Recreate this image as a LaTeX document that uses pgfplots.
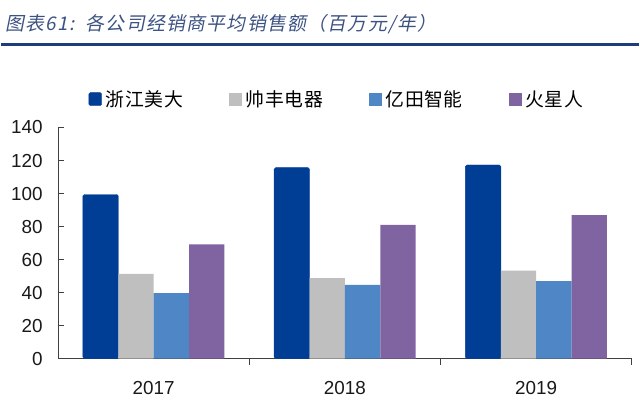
\documentclass[border=0pt]{standalone}
\usepackage{fontspec}
\setmainfont{Liberation Sans}
\newfontfamily\cjk[LetterSpace=3]{Noto Sans CJK SC}
\newfontfamily\cjktitle[FakeSlant=0.2,LetterSpace=7]{Noto Sans CJK SC}
\usepackage{pgfplots}
\pgfplotsset{compat=1.18}

\definecolor{cMeida}{RGB}{0,62,150}
\definecolor{cShuai}{RGB}{191,191,191}
\definecolor{cYitian}{RGB}{79,134,198}
\definecolor{cHuo}{RGB}{128,100,162}
\definecolor{titleblue}{RGB}{60,82,130}
\definecolor{rulecol}{RGB}{30,60,120}

\begin{document}
\begin{tikzpicture}[x=1bp,y=1bp]
\path (0,0) rectangle (640,417);
\node[anchor=west, inner sep=0pt, text=titleblue, font=\cjktitle\fontsize{19}{21}\selectfont] at (4,393) {图表61:\ \ 各公司经销商平均销售额（百万元/年）};
\draw[rulecol, line width=2.5bp] (0,372.5) -- (640,372.5);

\begin{axis}[
    at={(57bp,57bp)}, anchor=south west,
    scale only axis,
    width=576bp, height=232bp,
    xmin=-0.5, xmax=2.5,
    ymin=0, ymax=140,
    ytick={0,20,...,140},
    xtick={0,1,2},
    xticklabels={2017,2018,2019},
    minor xtick={0.5,1.5,2.5},
    major x tick style={draw=none},
    tick align=inside,
    major tick length=6bp,
    minor tick length=6bp,
    axis x line*=bottom,
    axis y line*=left,
    axis line style={black!75, line width=0.8bp},
    every tick/.style={black!75, line width=0.8bp},
    /pgf/number format/assume math mode=true,
    tick label style={font=\fontsize{19}{21}\selectfont, text=black!90},
    yticklabel style={xshift=-12bp},
    xticklabel style={yshift=-13bp},
    ybar=0pt,
    bar width=35.5bp,
    legend columns=4,
    legend style={at={(0.486,1.123)}, anchor=center, draw=none, fill=none,
        font=\cjk\fontsize{19}{21}\selectfont,
        /tikz/every odd column/.append style={column sep=2bp},
        /tikz/every even column/.append style={column sep=44bp}},
    legend image code/.code={\fill[#1] (0bp,-6.5bp) rectangle (13bp,6.5bp);},
]
\addplot[fill=cMeida, draw=cMeida, rounded corners=1.5bp] coordinates {(0,99.4) (1,115.7) (2,117.3)};
\addlegendentry{浙江美大}
\addplot[fill=cShuai, draw=none] coordinates {(0,51.3) (1,48.7) (2,53.3)};
\addlegendentry{帅丰电器}
\addplot[fill=cYitian, draw=none] coordinates {(0,39.6) (1,44.7) (2,46.9)};
\addlegendentry{亿田智能}
\addplot[fill=cHuo, draw=none] coordinates {(0,69.2) (1,81.0) (2,86.9)};
\addlegendentry{火星人}
\end{axis}
\end{tikzpicture}
\end{document}
